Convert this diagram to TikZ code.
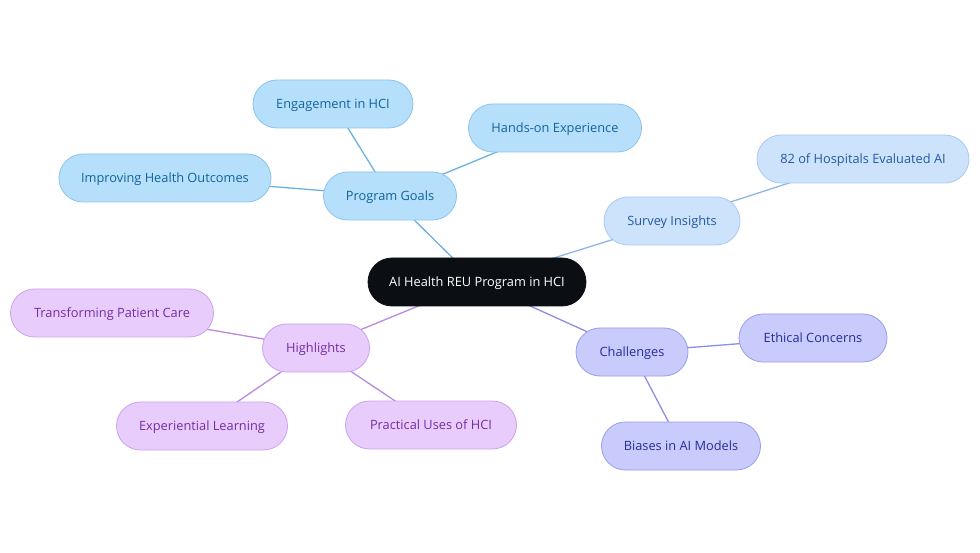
\documentclass[tikz,border=0pt]{standalone}
\usepackage{fontspec}
\setmainfont{Open Sans}
\usetikzlibrary{backgrounds}
\definecolor{bfill}{HTML}{B5DFFB}
\definecolor{bdraw}{HTML}{8DC3EA}
\definecolor{btext}{HTML}{12649A}
\definecolor{bline}{HTML}{6BB2DE}
\definecolor{sfill}{HTML}{CCE3FB}
\definecolor{sdraw}{HTML}{A9C9EF}
\definecolor{stext}{HTML}{2559A4}
\definecolor{sline}{HTML}{8DB6E6}
\definecolor{cfill}{HTML}{C8CBFC}
\definecolor{cdraw}{HTML}{9A9EE6}
\definecolor{ctext}{HTML}{272D96}
\definecolor{cline}{HTML}{8C8FE0}
\definecolor{hfill}{HTML}{E8CDFC}
\definecolor{hdraw}{HTML}{C9A3EC}
\definecolor{htext}{HTML}{762CA3}
\definecolor{hline}{HTML}{B98BE0}
\definecolor{root}{HTML}{0B0F14}
\tikzset{
  pill/.style={rectangle, rounded corners=24pt, minimum height=48pt, inner sep=0pt, text height=9pt, text depth=0pt, font=\fontsize{12.8}{14}\selectfont, line width=0.8pt},
  rootbox/.style={pill, fill=root, draw=root, text=white},
  bluebox/.style={pill, fill=bfill, draw=bdraw, text=btext},
  survbox/.style={pill, fill=sfill, draw=sdraw, text=stext},
  chalbox/.style={pill, fill=cfill, draw=cdraw, text=ctext},
  highbox/.style={pill, fill=hfill, draw=hdraw, text=htext},
  link/.style={line width=1.3pt}
}
\begin{document}
\begin{tikzpicture}[x=1pt,y=-1pt]
\useasboundingbox (0,0) rectangle (980,553);
\node[rootbox, minimum width=218pt] (root) at (477,282) {AI Health REU Program in HCI};
\node[bluebox, minimum width=133pt] (pg) at (390,196) {Program Goals};
\node[bluebox, minimum width=160pt] (eng) at (333,104) {Engagement in HCI};
\node[bluebox, minimum width=173pt] (hands) at (555,128) {Hands-on Experience};
\node[bluebox, minimum width=212pt] (imp) at (165,178) {Improving Health Outcomes};
\node[survbox, minimum width=136pt] (si) at (672,221) {Survey Insights};
\node[survbox, minimum width=212pt] (h82) at (863,159) {82 of Hospitals Evaluated AI};
\node[highbox, minimum width=107pt] (hl) at (316,348) {Highlights};
\node[highbox, minimum width=203pt] (tpc) at (112,313) {Transforming Patient Care};
\node[highbox, minimum width=171pt] (exl) at (202,426) {Experiential Learning};
\node[highbox, minimum width=171pt] (pu) at (431,425) {Practical Uses of HCI};
\node[chalbox, minimum width=112pt] (ch) at (632,352) {Challenges};
\node[chalbox, minimum width=148pt] (eth) at (813,338) {Ethical Concerns};
\node[chalbox, minimum width=159pt] (bias) at (681,446) {Biases in AI Models};
\begin{scope}[on background layer]
\draw[link, bline] (root.center) -- (pg.center);
\draw[link, bline] (pg.center) -- (eng.center);
\draw[link, bline] (pg.center) -- (hands.center);
\draw[link, bline] (pg.center) -- (imp.center);
\draw[link, sline] (root.center) -- (si.center);
\draw[link, sline] (si.center) -- (h82.center);
\draw[link, hline] (root.center) -- (hl.center);
\draw[link, hline] (hl.center) -- (tpc.center);
\draw[link, hline] (hl.center) -- (exl.center);
\draw[link, hline] (hl.center) -- (pu.center);
\draw[link, cline] (root.center) -- (ch.center);
\draw[link, cline] (ch.center) -- (eth.center);
\draw[link, cline] (ch.center) -- (bias.center);
\end{scope}
\end{tikzpicture}
\end{document}
